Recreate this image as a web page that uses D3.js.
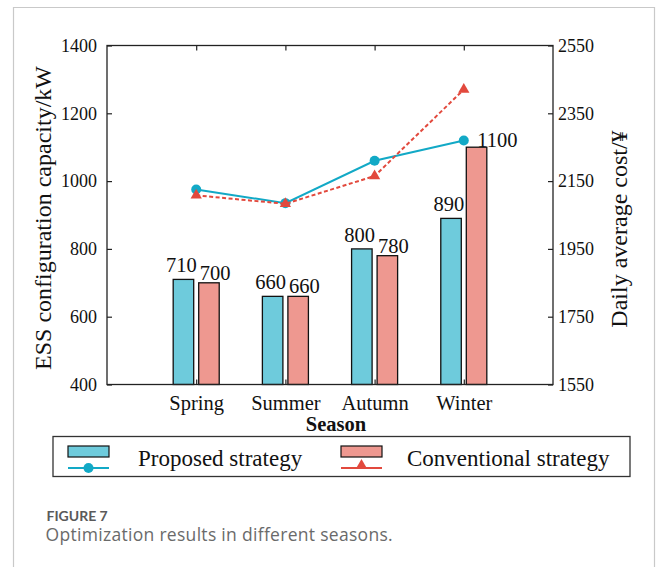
<!DOCTYPE html>
<html>
<head>
<meta charset="utf-8">
<script src="https://cdn.jsdelivr.net/npm/d3@7"></script>
<style>
  html, body { margin: 0; padding: 0; background: #fff; }
  svg { display: block; }
</style>
</head>
<body>
<div id="chart"></div>
<script>
// Seasonal optimisation results: ESS capacity (bars, left axis) and daily cost (lines, right axis)
const seasons = ["Spring", "Summer", "Autumn", "Winter"];
const capacityProposed = [710, 660, 800, 890];
const capacityConventional = [700, 660, 780, 1100];
const costProposed = [2125, 2085, 2210, 2270];
const costConventional = [2108, 2083, 2165, 2420];
const capacityTicks = [400, 600, 800, 1000, 1200, 1400];
const costTicks = [1550, 1750, 1950, 2150, 2350, 2550];
const seriesNames = ["Proposed strategy", "Conventional strategy"];

const W = 656, H = 567;
const plot = { left: 107, right: 553, top: 45.5, bottom: 384.5 };
const serif = "'Liberation Serif', 'Times New Roman', serif";
const fmt = d3.format("d");

const colors = {
  proposedBar: "#6ecbdc",
  conventionalBar: "#ee9890",
  proposedLine: "#12a9c6",
  conventionalLine: "#e2493d",
  axis: "#222"
};

const svg = d3.select("#chart").append("svg")
  .attr("width", W).attr("height", H);

// page frame
const frame = svg.append("g").attr("stroke", "#c9c9c9").attr("stroke-width", 1.2).attr("fill", "none");
frame.append("path").attr("d", `M13.5,${H} V7.5 H654.5 V${H}`);

// scales
const x = d3.scalePoint().domain(seasons).range([plot.left, plot.right]).padding(1);
const step = x.step();
const yL = d3.scaleLinear().domain([400, 1400]).range([plot.bottom, plot.top]);
const yR = d3.scaleLinear().domain([1550, 2550]).range([plot.bottom, plot.top]);

const barW = step * 0.23;
const barOff = step * 0.143;

// bars
const bars = svg.append("g").attr("stroke", "#111").attr("stroke-width", 1.3);
bars.selectAll("rect.p").data(seasons).join("rect")
  .attr("class", "p")
  .attr("x", (d) => x(d) - barOff - barW / 2)
  .attr("y", (d, i) => yL(capacityProposed[i]))
  .attr("width", barW)
  .attr("height", (d, i) => yL(400) - yL(capacityProposed[i]))
  .attr("fill", colors.proposedBar);
bars.selectAll("rect.c").data(seasons).join("rect")
  .attr("class", "c")
  .attr("x", (d) => x(d) + barOff - barW / 2)
  .attr("y", (d, i) => yL(capacityConventional[i]))
  .attr("width", barW)
  .attr("height", (d, i) => yL(400) - yL(capacityConventional[i]))
  .attr("fill", colors.conventionalBar);

// bar value labels; the tallest conventional label is nudged clear of the cost line
const labels = svg.append("g").attr("font-family", serif).attr("font-size", 20.5).attr("fill", "#111");
const maxConv = d3.max(capacityConventional);
labels.selectAll("text.p").data(seasons).join("text")
  .attr("class", "p")
  .attr("text-anchor", "end")
  .attr("x", (d) => x(d) - barOff + barW / 2 + 3)
  .attr("y", (d, i) => yL(capacityProposed[i]) - 7)
  .text((d, i) => fmt(capacityProposed[i]));
labels.selectAll("text.c").data(seasons).join("text")
  .attr("class", "c")
  .attr("text-anchor", "start")
  .attr("x", (d, i) => x(d) + barOff - barW / 2 + (capacityConventional[i] === maxConv ? 11 : 1))
  .attr("y", (d, i) => yL(capacityConventional[i]) - (capacityConventional[i] === maxConv ? 0 : 3))
  .text((d, i) => fmt(capacityConventional[i]));

// axes (ticks pointing inward, mirrored on all four sides)
function styleAxis(g) {
  g.select(".domain").remove();
  g.selectAll(".tick line").attr("stroke", colors.axis).attr("stroke-width", 1.2);
  g.selectAll(".tick text").attr("font-family", serif).attr("fill", "#111");
}

svg.append("g").attr("transform", `translate(${plot.left},0)`)
  .call(d3.axisLeft(yL).tickValues(capacityTicks).tickFormat(fmt).tickSizeInner(-5).tickSizeOuter(0).tickPadding(10))
  .call(styleAxis)
  .call((g) => g.selectAll(".tick text").attr("font-size", 18));

svg.append("g").attr("transform", `translate(${plot.right},0)`)
  .call(d3.axisRight(yR).tickValues(costTicks).tickFormat(fmt).tickSizeInner(-5).tickSizeOuter(0).tickPadding(5))
  .call(styleAxis)
  .call((g) => g.selectAll(".tick text").attr("font-size", 18));

svg.append("g").attr("transform", `translate(0,${plot.bottom})`)
  .call(d3.axisBottom(x).tickSizeInner(-5).tickSizeOuter(0).tickPadding(11))
  .call(styleAxis)
  .call((g) => g.selectAll(".tick text").attr("font-size", 20.5));

svg.append("g").attr("transform", `translate(0,${plot.top})`)
  .call(d3.axisTop(x).tickSizeInner(-5).tickSizeOuter(0).tickFormat(""))
  .call(styleAxis);

// plot box
svg.append("rect")
  .attr("x", plot.left).attr("y", plot.top)
  .attr("width", plot.right - plot.left).attr("height", plot.bottom - plot.top)
  .attr("fill", "none").attr("stroke", colors.axis).attr("stroke-width", 1.3);

// cost lines
const line = d3.line().x((d) => x(d[0])).y((d) => yR(d[1]));
const convPts = seasons.map((s, i) => [s, costConventional[i]]);
const propPts = seasons.map((s, i) => [s, costProposed[i]]);

svg.append("path").datum(propPts)
  .attr("d", line).attr("fill", "none")
  .attr("stroke", colors.proposedLine).attr("stroke-width", 2);
svg.append("g").selectAll("circle").data(propPts).join("circle")
  .attr("cx", (d) => x(d[0])).attr("cy", (d) => yR(d[1])).attr("r", 5)
  .attr("fill", colors.proposedLine);

svg.append("path").datum(convPts)
  .attr("d", line).attr("fill", "none")
  .attr("stroke", colors.conventionalLine).attr("stroke-width", 2)
  .attr("stroke-dasharray", "4,2.5");
const tri = d3.symbol().type(d3.symbolTriangle).size(55);
svg.append("g").selectAll("path").data(convPts).join("path")
  .attr("d", tri)
  .attr("transform", (d) => `translate(${x(d[0])},${yR(d[1])})`)
  .attr("fill", colors.conventionalLine);

// axis titles
svg.append("text")
  .attr("transform", `translate(51,218) rotate(-90)`)
  .attr("text-anchor", "middle").attr("font-family", serif).attr("font-size", 24).attr("fill", "#111")
  .text("ESS configuration capacity/kW");
svg.append("text")
  .attr("transform", `translate(627,229) rotate(-90)`)
  .attr("text-anchor", "middle").attr("font-family", serif).attr("font-size", 24).attr("fill", "#111")
  .text("Daily average cost/¥");
svg.append("text")
  .attr("x", 336).attr("y", 431)
  .attr("text-anchor", "middle").attr("font-family", serif).attr("font-size", 20.5)
  .attr("font-weight", "bold").attr("fill", "#111")
  .text("Season");

// legend
const lg = svg.append("g");
lg.append("rect").attr("x", 53).attr("y", 436.5).attr("width", 577).attr("height", 40)
  .attr("fill", "#fff").attr("stroke", "#333").attr("stroke-width", 1.3);

const legendItems = [
  { name: seriesNames[0], x0: 68, tx: 138, bar: colors.proposedBar, col: colors.proposedLine, mark: "circle" },
  { name: seriesNames[1], x0: 341, tx: 407, bar: colors.conventionalBar, col: colors.conventionalLine, mark: "triangle" }
];
legendItems.forEach((it) => {
  lg.append("rect").attr("x", it.x0).attr("y", 446).attr("width", 41).attr("height", 11)
    .attr("fill", it.bar).attr("stroke", "#111").attr("stroke-width", 1.2);
  lg.append("line").attr("x1", it.x0).attr("x2", it.x0 + 41).attr("y1", 468).attr("y2", 468)
    .attr("stroke", it.col).attr("stroke-width", 2);
  if (it.mark === "circle") {
    lg.append("circle").attr("cx", it.x0 + 20.5).attr("cy", 468).attr("r", 5).attr("fill", it.col);
  } else {
    lg.append("path").attr("d", tri).attr("transform", `translate(${it.x0 + 20.5},465.5)`).attr("fill", it.col);
  }
  lg.append("text").attr("x", it.tx).attr("y", 466)
    .attr("font-family", serif).attr("font-size", 23).attr("fill", "#111")
    .text(it.name);
});

// caption
svg.append("text").attr("x", 46.5).attr("y", 521)
  .attr("font-family", "Lato, 'Open Sans', sans-serif").attr("font-size", 14).attr("font-weight", 700)
  .attr("fill", "#5a5a5a").text("FIGURE 7");
svg.append("text").attr("x", 45.5).attr("y", 541)
  .attr("font-family", "'Open Sans', sans-serif").attr("font-size", 17.5).attr("font-weight", 400)
  .attr("letter-spacing", 0.3)
  .attr("fill", "#6a6a6a").text("Optimization results in different seasons.");
</script>
</body>
</html>
